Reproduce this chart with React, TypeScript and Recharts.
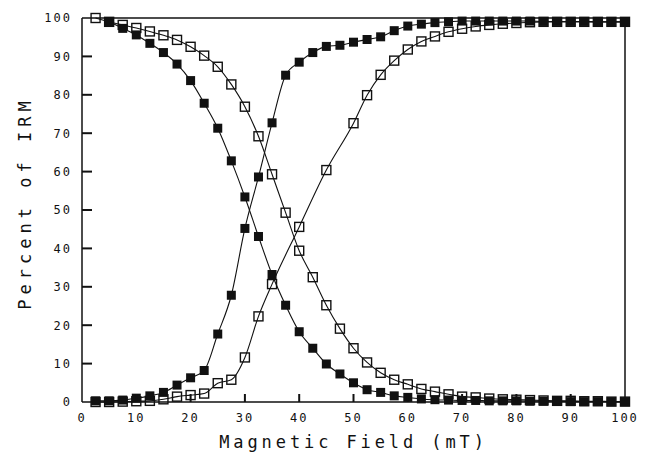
import { LineChart, Line, XAxis, YAxis, ReferenceLine } from "recharts"

// field steps (mT)
const fields = [
  2.5, 5, 7.5, 10, 12.5, 15, 17.5, 20, 22.5, 25, 27.5, 30, 32.5, 35, 37.5, 40, 42.5, 45, 47.5, 50,
  52.5, 55, 57.5, 60, 62.5, 65, 67.5, 70, 72.5, 75, 77.5, 80, 82.5, 85, 87.5, 90, 92.5, 95, 97.5, 100,
]

// solid squares, AF demagnetisation (no visible mark at 2.5 mT)
const solidDemag = [
  null, 99, 97.3, 95.6, 93.4, 91, 88, 83.7, 77.8, 71.3, 62.8, 53.4, 43.1, 33.2, 25.2, 18.3, 14, 9.9, 7.3, 5,
  3.2, 2.5, 1.6, 1.2, 0.8, 0.6, 0.5, 0.4, 0.4, 0.3, 0.3, 0.3, 0.2, 0.2, 0.2, 0.1, 0.1, 0.1, 0.1, 0.1,
]

// solid squares, IRM acquisition
const solidAcq = [
  0.3, 0.3, 0.5, 1, 1.6, 2.5, 4.4, 6.3, 8.2, 17.7, 27.8, 45.2, 58.6, 72.7, 85.1, 88.5, 91, 92.6, 92.9, 93.7,
  94.4, 95.1, 96.7, 97.9, 98.4, 98.8, 99, 99.2, 99.2, 99.2, 99.2, 99.2, 99.2, 99.1, 99.1, 99.1, 99.1, 99, 99, 99,
]

// open squares, AF demagnetisation
const openDemag = [
  100, 99, 98.2, 97.4, 96.5, 95.5, 94.3, 92.5, 90.2, 87.3, 82.7, 76.9, 69.2, 59.3, 49.3, 39.4, 32.5, 25.2, 19.1, 14,
  10.3, 7.6, 5.8, 4.6, 3.4, 2.7, 2, 1.4, 1.2, 0.9, 0.7, 0.6, 0.5, 0.4, 0.3, 0.3, 0.2, 0.2, 0.1, 0.1,
]

// open squares, IRM acquisition (coarser steps between 35 and 50 mT)
const openAcqFields = [
  2.5, 5, 7.5, 10, 12.5, 15, 17.5, 20, 22.5, 25, 27.5, 30, 32.5, 35, 40, 45, 50,
  52.5, 55, 57.5, 60, 62.5, 65, 67.5, 70, 72.5, 75, 77.5, 80, 82.5, 85, 87.5, 90, 92.5, 95, 97.5, 100,
]
const openAcq = [
  0, 0, 0.1, 0.2, 0.3, 0.7, 1.4, 1.8, 2.2, 4.9, 5.8, 11.6, 22.3, 30.7, 45.6, 60.4, 72.6,
  79.9, 85.2, 88.9, 91.8, 93.9, 95.2, 96.4, 97.2, 97.8, 98.2, 98.5, 98.7, 98.9, 99, 99, 99, 99, 99, 99, 99,
]

const xTicks = [0, 10, 20, 30, 40, 50, 60, 70, 80, 90, 100]
const yTicks = [0, 10, 20, 30, 40, 50, 60, 70, 80, 90, 100]

const toRows = (xs: number[], ys: (number | null)[]) => xs.map((x, i) => ({ x, y: ys[i] }))

const INK = "#111"
const FONT = "'DejaVu Sans Mono', monospace"
const X_MARGIN = 11
const Y_MARGIN = 10

const SolidSquare = (props: any) => {
  const { cx, cy, index } = props
  if (cx == null || cy == null) return <g key={`s-${index}`} />
  return <rect key={`s-${index}`} x={cx - 4.5} y={cy - 4.5} width={9} height={9} fill={INK} />
}

const OpenSquare = (props: any) => {
  const { cx, cy, index } = props
  if (cx == null || cy == null) return <g key={`o-${index}`} />
  return (
    <rect key={`o-${index}`} x={cx - 4.5} y={cy - 4.5} width={9} height={9} fill="none" stroke={INK} strokeWidth={1.4} />
  )
}

// inward tick + label, bottom axis
const renderXTick = (props: any) => {
  const { x, y, payload } = props
  const axisY = y - X_MARGIN
  return (
    <g key={`xt-${payload.value}`}>
      {payload.value > 0 && payload.value < 100 && (
        <line x1={x} x2={x} y1={axisY} y2={axisY - 8} stroke={INK} strokeWidth={2} />
      )}
      <text x={x} y={y} dy="0.71em" textAnchor="middle" fontFamily={FONT} fontSize={12} letterSpacing={2} fill={INK}>
        {payload.value}
      </text>
    </g>
  )
}

// inward tick + label, left axis
const renderYTick = (props: any) => {
  const { x, y, payload } = props
  const axisX = x + Y_MARGIN
  return (
    <g key={`yt-${payload.value}`}>
      {payload.value > 0 && payload.value < 100 && (
        <line x1={axisX} x2={axisX + 10} y1={y} y2={y} stroke={INK} strokeWidth={2} />
      )}
      <text x={x} y={y} dy="0.36em" textAnchor="end" fontFamily={FONT} fontSize={12} letterSpacing={2} fill={INK}>
        {payload.value}
      </text>
    </g>
  )
}

export default function App() {
  return (
    <div style={{ position: "absolute", left: 0, top: 0, width: 648, height: 461, background: "#fff" }}>
      <LineChart width={648} height={461} margin={{ top: 18, right: 23, bottom: 0, left: 0 }}>
        <XAxis
          dataKey="x"
          type="number"
          domain={[0, 100]}
          ticks={xTicks}
          tickSize={0}
          tickMargin={X_MARGIN}
          tick={renderXTick}
          tickLine={false}
          height={59}
          axisLine={{ stroke: INK, strokeWidth: 1.5 }}
          label={{
            value: "Magnetic Field (mT)",
            position: "insideBottom",
            offset: 13,
            style: { fontFamily: FONT, fontSize: 17, letterSpacing: 3.9, fill: INK },
          }}
        />
        <YAxis
          type="number"
          domain={[0, 100]}
          ticks={yTicks}
          tickSize={0}
          tickMargin={Y_MARGIN}
          tick={renderYTick}
          tickLine={false}
          width={82}
          axisLine={{ stroke: INK, strokeWidth: 1.5 }}
          label={{
            value: "Percent of IRM",
            angle: -90,
            position: "center",
            dx: -16,
            dy: -7,
            style: { fontFamily: FONT, fontSize: 17, letterSpacing: 5, fill: INK, textAnchor: "middle" },
          }}
        />
        {/* frame: top and right borders */}
        <ReferenceLine y={100} stroke={INK} strokeWidth={1.5} ifOverflow="visible" />
        <ReferenceLine x={100} stroke={INK} strokeWidth={1.5} ifOverflow="visible" />
        <Line data={toRows(openAcqFields, openAcq)} dataKey="y" type="monotone" stroke={INK} strokeWidth={1.1} dot={<OpenSquare />} isAnimationActive={false} />
        <Line data={toRows(fields, openDemag)} dataKey="y" type="monotone" stroke={INK} strokeWidth={1.1} dot={<OpenSquare />} isAnimationActive={false} />
        <Line data={toRows(fields, solidAcq)} dataKey="y" type="monotone" stroke={INK} strokeWidth={1.1} dot={<SolidSquare />} isAnimationActive={false} />
        <Line data={toRows(fields, solidDemag)} dataKey="y" type="monotone" stroke={INK} strokeWidth={1.1} dot={<SolidSquare />} isAnimationActive={false} />
      </LineChart>
    </div>
  )
}
